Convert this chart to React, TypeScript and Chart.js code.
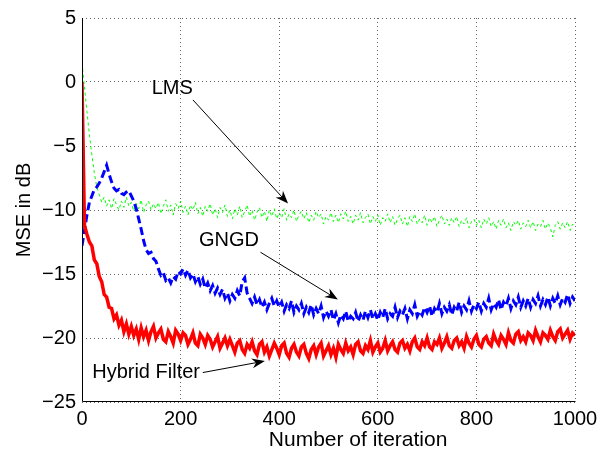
import React, { useEffect, useRef } from "react";
import { Chart, registerables } from "chart.js";

Chart.register(...registerables);

// Iteration index (every 5th iteration)
const ITERATIONS = [
  0, 5, 10, 15, 20, 25, 30, 35, 40, 45,
  50, 55, 60, 65, 70, 75, 80, 85, 90, 95,
  100, 105, 110, 115, 120, 125, 130, 135, 140, 145,
  150, 155, 160, 165, 170, 175, 180, 185, 190, 195,
  200, 205, 210, 215, 220, 225, 230, 235, 240, 245,
  250, 255, 260, 265, 270, 275, 280, 285, 290, 295,
  300, 305, 310, 315, 320, 325, 330, 335, 340, 345,
  350, 355, 360, 365, 370, 375, 380, 385, 390, 395,
  400, 405, 410, 415, 420, 425, 430, 435, 440, 445,
  450, 455, 460, 465, 470, 475, 480, 485, 490, 495,
  500, 505, 510, 515, 520, 525, 530, 535, 540, 545,
  550, 555, 560, 565, 570, 575, 580, 585, 590, 595,
  600, 605, 610, 615, 620, 625, 630, 635, 640, 645,
  650, 655, 660, 665, 670, 675, 680, 685, 690, 695,
  700, 705, 710, 715, 720, 725, 730, 735, 740, 745,
  750, 755, 760, 765, 770, 775, 780, 785, 790, 795,
  800, 805, 810, 815, 820, 825, 830, 835, 840, 845,
  850, 855, 860, 865, 870, 875, 880, 885, 890, 895,
  900, 905, 910, 915, 920, 925, 930, 935, 940, 945,
  950, 955, 960, 965, 970, 975, 980, 985, 990, 995,
  1000,
];

// Hybrid Filter MSE (dB)
const HYBRID_MSE = [
  0, -11.2, -11.9, -12.5, -12.8, -13.9, -14.2, -15.2, -15.6, -16.6,
  -16.8, -17.6, -17.7, -18.5, -18.2, -19.0, -18.6, -19.5, -18.9, -19.7,
  -19.1, -19.8, -19.3, -20.1, -19.2, -19.9, -19.4, -20.2, -19.5, -19.1,
  -20.0, -19.6, -19.3, -20.1, -20.3, -19.5, -19.9, -20.4, -19.4, -19.7,
  -20.2, -19.6, -19.8, -20.5, -20.1, -19.6, -20.4, -20.6, -19.7, -20.0,
  -20.5, -19.8, -20.1, -20.7, -20.3, -19.9, -20.8, -20.4, -20.0, -20.6,
  -20.1, -20.6, -21.1, -20.4, -20.2, -20.9, -21.2, -20.5, -20.8, -20.3,
  -21.0, -21.3, -20.5, -20.3, -21.1, -20.7, -21.4, -20.9, -20.4, -20.8,
  -21.3, -20.6, -20.4, -21.2, -21.5, -20.8, -20.5, -21.1, -21.4, -20.7,
  -20.5, -21.2, -21.6, -20.9, -20.6, -21.3, -20.7, -20.4, -21.4, -21.0,
  -20.6, -21.3, -20.8, -21.5, -20.5, -20.9, -21.2, -20.4, -21.0, -20.7,
  -21.3, -20.5, -20.3, -21.0, -21.2, -20.6, -20.9, -20.2, -21.1, -20.7,
  -20.4, -21.1, -20.8, -20.2, -21.0, -20.6, -20.3, -20.9, -21.1, -20.4,
  -20.2, -20.8, -20.5, -21.0, -20.3, -20.0, -20.7, -20.9, -20.3, -20.6,
  -20.0, -20.7, -20.9, -20.3, -20.5, -20.0, -20.8, -20.4, -19.9, -20.6,
  -20.8, -20.2, -20.0, -20.6, -20.3, -20.8, -19.9, -20.4, -20.7, -20.1,
  -19.8, -20.5, -20.7, -20.1, -19.9, -20.4, -20.6, -19.7, -20.2, -20.5,
  -19.8, -20.1, -20.5, -19.6, -20.2, -20.4, -19.7, -19.5, -20.2, -19.9,
  -20.3, -19.6, -19.8, -20.2, -19.4, -19.9, -20.3, -19.6, -19.8, -20.1,
  -19.4, -19.9, -20.2, -19.5, -19.3, -20.0, -19.7, -19.4, -20.1, -19.6,
  -19.8,
];

// GNGD MSE (dB)
const GNGD_MSE = [
  -12.8, -11.6, -10.4, -9.4, -8.9, -8.4, -8.2, -7.9, -7.5, -7.0,
  -6.5, -7.2, -7.8, -8.3, -8.5, -8.4, -8.7, -8.8, -8.6, -8.5,
  -8.9, -9.3, -9.9, -10.7, -11.5, -12.4, -13.1, -13.4, -13.3, -13.8,
  -14.0, -14.6, -15.1, -14.9, -15.5, -15.3, -15.7, -15.2, -15.4, -14.8,
  -15.0, -14.6, -15.1, -14.7, -15.3, -15.0, -15.6, -15.2, -15.8, -15.4,
  -16.1, -15.7, -16.3, -15.9, -16.5, -16.1, -16.6, -16.2, -16.9, -16.5,
  -17.1, -16.6, -16.9, -16.3, -16.7, -15.6, -15.3, -16.5, -16.9, -17.3,
  -16.8, -17.4, -17.0, -17.6, -17.2, -17.8, -17.3, -16.9, -17.5, -17.1,
  -17.6, -17.2, -17.9, -17.4, -17.7, -17.1, -18.0, -17.5, -17.8, -17.3,
  -18.1, -17.6, -18.0, -17.4, -18.2, -17.7, -18.1, -17.5, -18.4, -17.9,
  -18.3, -17.8, -18.6, -18.1, -18.8, -18.2, -18.5, -17.9, -18.7, -18.3,
  -18.5, -18.0, -18.7, -18.2, -18.6, -17.9, -18.4, -17.8, -18.5, -18.1,
  -18.6, -18.0, -18.4, -17.7, -18.5, -18.1, -18.3, -17.6, -18.4, -17.9,
  -18.2, -17.7, -18.5, -17.8, -18.1, -17.4, -18.3, -17.9, -18.2, -17.6,
  -18.0, -17.5, -18.3, -17.7, -18.0, -17.3, -18.1, -17.6, -17.9, -17.4,
  -18.2, -17.6, -17.9, -17.2, -18.0, -17.5, -17.8, -17.1, -17.9, -17.4,
  -17.7, -17.2, -17.9, -17.3, -17.6, -16.9, -17.8, -17.3, -17.6, -17.0,
  -17.8, -17.2, -17.5, -16.9, -17.7, -17.1, -17.4, -16.8, -17.6, -17.1,
  -17.5, -16.9, -17.6, -17.0, -17.3, -16.7, -17.5, -17.0, -17.4, -16.8,
  -17.5, -16.9, -17.3, -16.7, -17.4, -16.9, -17.2, -16.6, -17.3, -16.8,
  -17.1,
];

// LMS MSE (dB)
const LMS_MSE = [
  1.5, -0.4, -2.3, -4.1, -5.7, -7.1, -8.2, -8.8, -9.4, -9.0,
  -9.7, -9.2, -9.9, -9.1, -9.6, -10.0, -9.3, -9.8, -9.0, -9.7,
  -9.4, -10.1, -9.5, -9.9, -9.2, -10.2, -9.6, -9.3, -10.0, -9.5,
  -9.9, -9.4, -10.3, -9.7, -9.2, -10.1, -9.6, -10.4, -9.5, -9.9,
  -9.3, -10.2, -9.7, -10.4, -9.6, -10.0, -9.4, -10.3, -9.8, -10.5,
  -9.7, -10.1, -9.5, -10.4, -9.9, -10.6, -9.8, -10.2, -9.6, -10.5,
  -10.0, -10.7, -9.9, -10.4, -9.7, -10.6, -10.1, -9.6, -10.5, -10.0,
  -10.8, -10.2, -9.8, -10.6, -10.1, -10.9, -10.0, -10.5, -9.9, -10.7,
  -10.2, -10.6, -9.9, -10.8, -10.3, -10.6, -10.0, -10.9, -10.4, -10.1,
  -10.7, -10.2, -11.0, -10.4, -10.8, -10.1, -10.6, -10.3, -11.1, -10.5,
  -10.8, -10.2, -10.9, -10.4, -11.0, -10.3, -10.7, -10.1, -10.9, -10.5,
  -11.1, -10.4, -10.8, -10.2, -11.0, -10.6, -10.3, -11.1, -10.5, -10.9,
  -10.4, -11.2, -10.6, -10.9, -10.3, -11.0, -10.5, -11.2, -10.7, -10.4,
  -11.1, -10.6, -11.3, -10.5, -10.9, -10.3, -11.1, -10.7, -11.0, -10.4,
  -11.2, -10.6, -11.0, -10.5, -11.3, -10.8, -10.4, -11.1, -10.7, -11.2,
  -10.6, -11.0, -10.5, -11.3, -10.8, -11.1, -10.6, -11.4, -10.9, -10.7,
  -11.2, -10.8, -11.4, -10.7, -11.1, -10.6, -11.3, -10.9, -11.5, -10.8,
  -11.2, -10.7, -11.4, -11.0, -11.6, -10.9, -11.2, -10.8, -11.5, -11.0,
  -11.3, -10.8, -11.4, -10.9, -11.6, -11.1, -11.3, -10.8, -11.5, -11.0,
  -11.4, -12.1, -11.2, -10.9, -11.5, -11.0, -11.4, -10.9, -11.6, -11.1,
  -11.3,
];

// Axis ranges / ticks
const X_MIN = 0;
const X_MAX = 1000;
const X_STEP = 200;
const Y_MIN = -25;
const Y_MAX = 5;
const Y_STEP = 5;

// Text labels
const X_TITLE = "Number of iteration";
const Y_TITLE = "MSE in dB";
const ANNOTATION_LABELS = ["LMS", "GNGD", "Hybrid Filter"];
// Annotation anchor points in data units: [textX, textY, fromX, fromY, toX, toY]
const ANNOTATION_POINTS = [
  [183, -0.5, 225, -1.4, 418, -9.5],
  [298, -12.35, 362, -13.3, 519, -17.0],
  [130, -22.7, 245, -22.7, 371, -21.8],
];
// x-axis title centre, in iteration units (the original is set right of centre)
const X_TITLE_CENTER = 560;

const FONT = '"Liberation Sans", Arial, Helvetica, sans-serif';
const FS = 20;

const fmt = (v: number | string) => String(v).replace("-", "\u2212");

const toPoints = (ys: number[]) => ITERATIONS.map((x, i) => ({ x, y: ys[i] }));

const overlayPlugin = {
  id: "overlay",
  afterDraw(chart: any) {
    const { ctx, chartArea, scales } = chart;
    const xs = scales.x;
    const ys = scales.y;
    ctx.save();
    // axis lines (left, bottom)
    ctx.strokeStyle = "#000";
    ctx.lineWidth = 1;
    ctx.setLineDash([]);
    const L = Math.round(chartArea.left) + 0.5;
    const B = Math.round(chartArea.bottom) - 0.5;
    ctx.beginPath();
    ctx.moveTo(L, Math.round(chartArea.top));
    ctx.lineTo(L, B);
    ctx.lineTo(Math.round(chartArea.right) + 0.5, B);
    ctx.stroke();

    // x-axis title
    ctx.fillStyle = "#000";
    ctx.font = `21px ${FONT}`;
    ctx.textAlign = "center";
    ctx.textBaseline = "middle";
    ctx.fillText(X_TITLE, xs.getPixelForValue(X_TITLE_CENTER), chart.height - 16);

    // annotations
    ctx.font = `${FS}px ${FONT}`;
    ANNOTATION_POINTS.forEach((p, i) => {
      const tx = xs.getPixelForValue(p[0]);
      const ty = ys.getPixelForValue(p[1]);
      ctx.fillText(ANNOTATION_LABELS[i], tx, ty);
      const x1 = xs.getPixelForValue(p[2]);
      const y1 = ys.getPixelForValue(p[3]);
      const x2 = xs.getPixelForValue(p[4]);
      const y2 = ys.getPixelForValue(p[5]);
      const ang = Math.atan2(y2 - y1, x2 - x1);
      const c = Math.cos(ang);
      const s = Math.sin(ang);
      const len = 13;
      const half = 5;
      const notch = 9;
      ctx.beginPath();
      ctx.moveTo(x1, y1);
      ctx.lineTo(x2 - notch * c, y2 - notch * s);
      ctx.stroke();
      const bx = x2 - len * c;
      const by = y2 - len * s;
      ctx.beginPath();
      ctx.moveTo(x2, y2);
      ctx.lineTo(bx - half * s, by + half * c);
      ctx.lineTo(x2 - notch * c, y2 - notch * s);
      ctx.lineTo(bx + half * s, by - half * c);
      ctx.closePath();
      ctx.fill();
    });
    ctx.restore();
  },
};

export default function App() {
  const ref = useRef<HTMLCanvasElement>(null);
  useEffect(() => {
    const canvas = ref.current;
    if (!canvas) return;
    const gridCommon = {
      color: "rgba(0,0,0,0.6)",
      lineWidth: 1,
      drawTicks: false,
    };
    const chart = new Chart(canvas, {
      type: "line",
      data: {
        datasets: [
          {
            label: "Hybrid Filter",
            data: toPoints(HYBRID_MSE),
            borderColor: "rgb(255,0,0)",
            borderWidth: 3.5,
            pointRadius: 0,
            tension: 0,
            order: 1,
          },
          {
            label: "GNGD",
            data: toPoints(GNGD_MSE),
            borderColor: "rgb(0,0,255)",
            borderWidth: 3,
            borderDash: [8, 4],
            pointRadius: 0,
            tension: 0,
            order: 2,
          },
          {
            label: "LMS",
            data: toPoints(LMS_MSE),
            borderColor: "rgb(0,255,0)",
            borderWidth: 1,
            borderDash: [3, 3],
            pointRadius: 0,
            tension: 0,
            order: 3,
          },
        ],
      },
      options: {
        responsive: false,
        animation: false,
        devicePixelRatio: 1,
        layout: { padding: { left: 0, right: 31, top: 14, bottom: 0 } },
        plugins: { legend: { display: false }, tooltip: { enabled: false } },
        scales: {
          x: {
            type: "linear",
            min: X_MIN,
            max: X_MAX,
            ticks: {
              stepSize: X_STEP,
              color: "#000",
              font: { family: FONT, size: FS },
              padding: 5,
              maxRotation: 0,
              callback: (v: any) => fmt(v),
            },
            grid: gridCommon,
            border: { display: false, dash: [1, 3] },
            title: { display: false },
            afterFit: (s: any) => {
              s.height = 54;
            },
          },
          y: {
            type: "linear",
            min: Y_MIN,
            max: Y_MAX,
            ticks: {
              stepSize: Y_STEP,
              color: "#000",
              font: { family: FONT, size: FS },
              padding: 6,
              callback: (v: any) => fmt(v),
            },
            grid: gridCommon,
            border: { display: false, dash: [1, 3] },
            title: {
              display: true,
              text: Y_TITLE,
              color: "#000",
              font: { family: FONT, size: FS, lineHeight: 1.2 },
              padding: { top: 12, bottom: 0 },
            },
            afterFit: (s: any) => {
              s.width = 82;
            },
          },
        },
      },
      plugins: [overlayPlugin],
    } as any);
    return () => chart.destroy();
  }, []);
  return (
    <div
      style={{
        position: "absolute",
        left: 0,
        top: 0,
        width: 606,
        height: 456,
        background: "#fff",
      }}
    >
      <canvas ref={ref} width={606} height={456} style={{ display: "block", width: 606, height: 456 }} />
    </div>
  );
}
